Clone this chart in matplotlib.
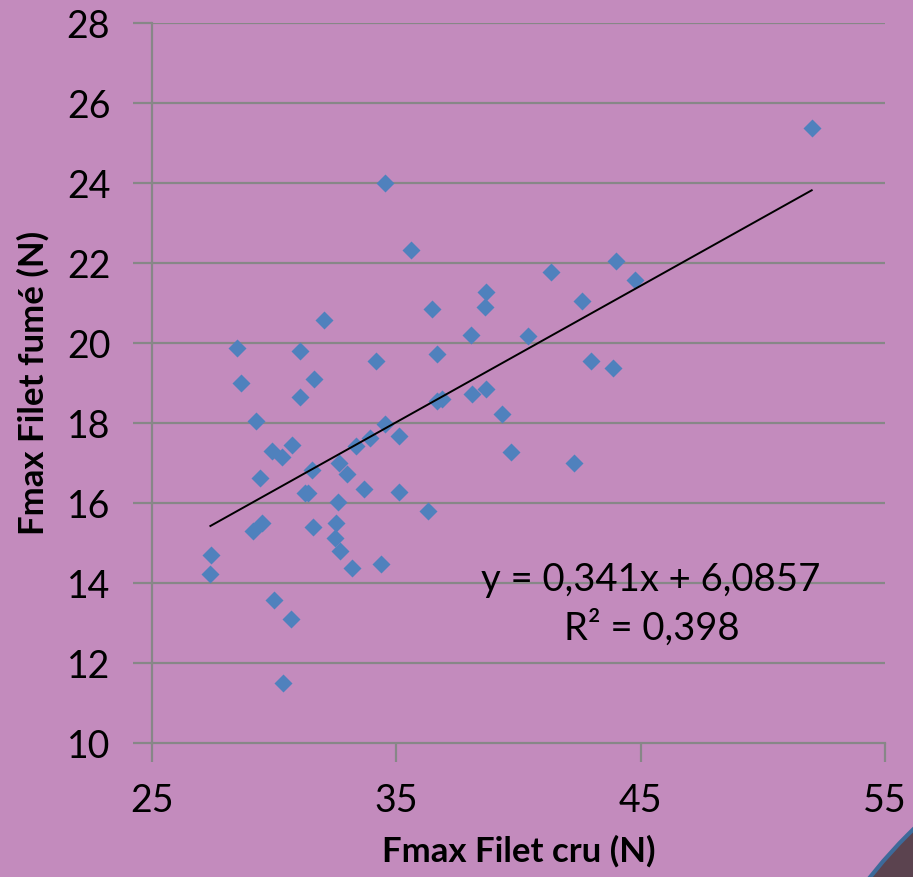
import matplotlib.pyplot as plt
from matplotlib.patches import Circle

# Fmax values (N) for raw and smoked fillets
fmax_cru = [27.41, 27.39, 28.49, 28.63, 29.24, 29.42, 29.12, 29.51, 29.91, 30.01,
            30.32, 30.35, 30.68, 30.73, 31.06, 31.06, 31.38, 31.28, 31.56, 31.58,
            31.63, 32.05, 32.52, 32.49, 32.60, 32.67, 32.70, 32.97, 33.19, 33.34,
            33.67, 33.91, 34.17, 34.37, 34.54, 34.55, 35.10, 35.12, 35.59, 36.30,
            36.45, 36.65, 36.86, 36.68, 38.07, 38.09, 38.63, 38.65, 38.67, 39.33,
            39.70, 40.37, 41.33, 42.29, 42.60, 42.97, 43.88, 43.98, 44.76, 52.00]
fmax_fume = [14.71, 14.22, 19.88, 19.00, 18.06, 16.63, 15.31, 15.51, 17.31, 13.57,
             17.16, 11.50, 13.11, 17.44, 19.81, 18.65, 16.26, 16.24, 16.83, 15.39,
             19.09, 20.57, 15.49, 15.13, 16.03, 17.01, 14.80, 16.73, 14.37, 17.43,
             16.34, 17.63, 19.55, 14.47, 17.98, 23.99, 16.28, 17.68, 22.33, 15.79,
             20.85, 18.56, 18.59, 19.73, 20.21, 18.73, 20.91, 21.27, 18.86, 18.23,
             17.28, 20.17, 21.77, 16.99, 21.04, 19.56, 19.37, 22.05, 21.58, 25.38]

# linear trend as reported
slope = 0.341
intercept = 6.0857
r2 = 0.398

x_ticks = [25, 35, 45, 55]
y_ticks = [10, 12, 14, 16, 18, 20, 22, 24, 26, 28]

bg = '#C38BBD'
grid_col = '#878787'

plt.rcParams['font.family'] = ['Lato', 'DejaVu Sans']

fig = plt.figure(figsize=(9.13, 8.77), dpi=100)
fig.patch.set_facecolor(bg)
ax = fig.add_axes([152 / 913, 1 - 743 / 877, 733 / 913, 720 / 877])
ax.set_facecolor(bg)

ax.set_xlim(25, 55)
ax.set_ylim(10, 28)
ax.set_xticks(x_ticks)
ax.set_yticks(y_ticks)

for y in y_ticks[1:]:
    ax.axhline(y, color=grid_col, lw=1.6, zorder=1)

ax.plot(fmax_cru, fmax_fume, linestyle='none', marker='D', ms=9.6,
        color='#4F81BD', mec='none', zorder=3)

x0, x1 = min(fmax_cru), max(fmax_cru)
ax.plot([x0, x1], [slope * x0 + intercept, slope * x1 + intercept],
        color='black', lw=1.4, zorder=4)

eq = 'y = {}x + {}'.format(str(slope).replace('.', ','), str(intercept).replace('.', ','))
ax.text(45.4, 14.08, eq, ha='center', va='center', fontsize=27.5, zorder=5)
ax.text(45.45, 12.88, 'R² = {}'.format(str(r2).replace('.', ',')),
        ha='center', va='center', fontsize=27.5, zorder=5)

for side in ['top', 'right']:
    ax.spines[side].set_visible(False)
for side in ['left', 'bottom']:
    ax.spines[side].set_color(grid_col)
    ax.spines[side].set_linewidth(1.6)
ax.tick_params(axis='both', direction='out', length=14, width=1.6,
               color=grid_col, labelsize=27)
ax.tick_params(axis='x', pad=14.5)
ax.tick_params(axis='y', pad=16)

ax.set_xlabel('Fmax Filet cru (N)', fontsize=25, fontweight='bold')
ax.xaxis.set_label_coords(0.5, -0.128)
ax.set_ylabel('Fmax Filet fumé (N)', fontsize=25, fontweight='bold', labelpad=12)

# slide ornament in the lower right corner
fig.patches.append(Circle((1250, -300), 484, transform=None, facecolor='#5B434F',
                          edgecolor='#3D6A9A', lw=3))

fig.savefig('out.png', dpi=100, facecolor=bg)
